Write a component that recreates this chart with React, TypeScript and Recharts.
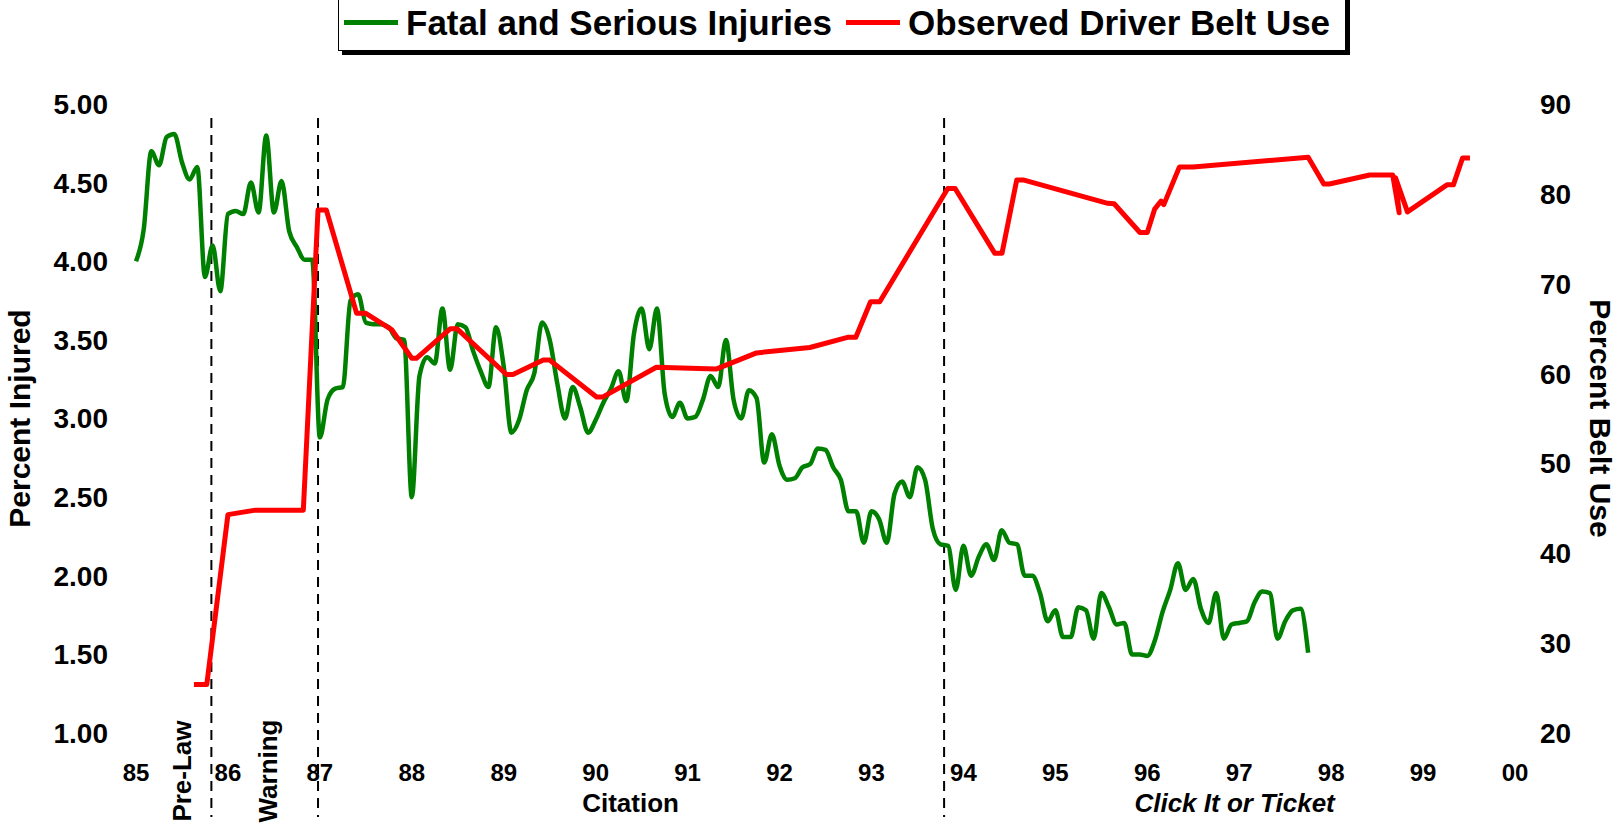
import React from 'react';
import { ComposedChart, Line, XAxis, YAxis, ReferenceLine } from 'recharts';

const FONT = '"Liberation Sans", Arial, Helvetica, sans-serif';

// monthly rate of fatal + serious injuries, starting Jan 1985
const injuryStartYear = 85;
const injuryRate = [
  4.0, 4.2, 4.7, 4.61, 4.79, 4.81, 4.63, 4.52, 4.6, 3.9, 4.1, 3.81,
  4.3, 4.32, 4.3, 4.5, 4.31, 4.8, 4.31, 4.51, 4.19, 4.09, 4.01, 4.01,
  2.88, 3.12, 3.19, 3.2, 3.75, 3.79, 3.61, 3.6, 3.6, 3.58, 3.51, 3.5,
  2.5, 3.27, 3.39, 3.35, 3.7, 3.31, 3.6, 3.58, 3.43, 3.3, 3.2, 3.58,
  3.33, 2.91, 2.99, 3.18, 3.29, 3.61, 3.5, 3.22, 3.0, 3.2, 3.07, 2.91,
  2.99, 3.1, 3.19, 3.3, 3.11, 3.54, 3.7, 3.44, 3.7, 3.16, 3.01, 3.1,
  3.0, 3.01, 3.12, 3.27, 3.2, 3.5, 3.12, 3.0, 3.18, 3.13, 2.72, 2.9,
  2.7, 2.61, 2.62, 2.69, 2.71, 2.81, 2.8, 2.69, 2.61, 2.41, 2.41, 2.21,
  2.41, 2.36, 2.21, 2.52, 2.6, 2.5, 2.69, 2.61, 2.3, 2.2, 2.19, 1.91,
  2.19, 2.0, 2.12, 2.2, 2.1, 2.29, 2.21, 2.2, 2.0, 2.0, 1.89, 1.71,
  1.78, 1.61, 1.61, 1.8, 1.78, 1.6, 1.89, 1.8, 1.69, 1.7, 1.5, 1.5,
  1.49, 1.59, 1.77, 1.91, 2.08, 1.91, 1.98, 1.79, 1.7, 1.89, 1.6, 1.69,
  1.7, 1.71, 1.83, 1.9, 1.89, 1.6, 1.71, 1.78, 1.79, 1.51,
];

// observed driver belt use survey points
const beltYears = [
  85.63, 85.77, 86.0, 86.3, 86.82, 86.98, 87.07, 87.4, 87.5, 87.78, 88.0, 88.05,
  88.42, 88.49, 89.03, 89.1, 89.43, 89.5, 90.01, 90.08, 90.66, 91.31, 91.75, 92.33,
  92.75, 92.83, 92.99, 93.09, 93.83, 93.91, 94.34, 94.42, 94.58, 94.65, 95.57, 95.64,
  95.92, 96.0, 96.08, 96.15, 96.18, 96.35, 96.5, 97.75, 97.92, 97.98, 98.42, 98.67,
  98.74, 98.7, 98.83, 99.26, 99.33, 99.43, 99.51,
];
const beltUse = [
  25.4, 25.4, 44.3, 44.8, 44.8, 78.2, 78.2, 66.7, 66.7, 64.9, 61.7, 61.7,
  65.0, 65.0, 59.9, 59.9, 61.5, 61.5, 57.4, 57.4, 60.7, 60.5, 62.3, 62.9,
  64.05, 64.05, 68.0, 68.0, 80.6, 80.6, 73.4, 73.4, 81.55, 81.55, 78.95, 78.9,
  75.7, 75.7, 78.3, 79.2, 78.8, 83.0, 83.0, 84.07, 81.1, 81.1, 82.1, 82.1,
  77.9, 81.8, 78.0, 81.0, 81.0, 84.0, 84.0,
];

const yearTicks = [85, 86, 87, 88, 89, 90, 91, 92, 93, 94, 95, 96, 97, 98, 99, 100];
const injuryTicks = [1, 1.5, 2, 2.5, 3, 3.5, 4, 4.5, 5];
const beltTicks = [20, 30, 40, 50, 60, 70, 80, 90];

const phaseBreaks = [85.82, 86.98, 93.79];
const phaseNames = ['Pre-Law', 'Warning', 'Citation', 'Click It or Ticket'];
const phaseCenters = [85.5, 86.44, 90.38, 96.95];
const phaseVertical = [true, true, false, false];
const phaseItalic = [false, false, false, true];

const seriesNames = ['Fatal and Serious Injuries', 'Observed Driver Belt Use'];
const seriesColors = ['#008000', '#ff0000'];

const injuryData = injuryRate.map((rate, i) => ({ year: injuryStartYear + i / 12, rate }));
const beltData = beltYears.map((year, i) => ({ year, belt: beltUse[i] }));

const tickText = { fill: '#000', fontWeight: 700, fontFamily: FONT };

const DashedBreak = (props: any) => {
  const { x1, y1, y2 } = props;
  const top = Math.min(y1, y2);
  const bottom = Math.max(y1, y2);
  return (
    <line x1={x1} x2={x1} y1={top + 14} y2={bottom + 84} stroke="#000" strokeWidth={2} strokeDasharray="10 7" />
  );
};

const PhaseLabel = (props: any) => {
  const { x1, y1, y2, name, vertical, italic } = props;
  const bottom = Math.max(y1, y2);
  const style = { fontFamily: FONT, fontWeight: 700, fontSize: 26, fontStyle: italic ? 'italic' : 'normal' };
  if (vertical) {
    const cy = bottom + 38;
    return (
      <text x={x1} y={cy} transform={`rotate(-90 ${x1} ${cy})`} textAnchor="middle" dominantBaseline="central" fill="#000" style={style}>
        {name}
      </text>
    );
  }
  return (
    <text x={x1} y={bottom + 70} textAnchor="middle" dominantBaseline="central" fill="#000" style={style}>
      {name}
    </text>
  );
};

const AxisTitle = (props: any) => {
  const { viewBox, value, side } = props;
  const cx = side === 'left' ? viewBox.x + 19 : viewBox.x + 85;
  const cy = viewBox.y + viewBox.height / 2;
  return (
    <text
      x={cx}
      y={cy}
      transform={`rotate(${side === 'left' ? -90 : 90} ${cx} ${cy})`}
      textAnchor="middle"
      dominantBaseline="central"
      fill="#000"
      style={{ fontFamily: FONT, fontWeight: 700, fontSize: 30 }}
    >
      {value}
    </text>
  );
};

const LegendBox = () => (
  <div
    style={{
      position: 'absolute',
      left: 338,
      top: -6,
      width: 1008,
      height: 57,
      boxSizing: 'border-box',
      border: '1px solid #000',
      boxShadow: '4px 4px 0 #000',
      background: '#fff',
      display: 'flex',
      alignItems: 'center',
      paddingLeft: 5,
      fontFamily: FONT,
      fontWeight: 700,
      fontSize: 35,
      color: '#000',
      whiteSpace: 'nowrap',
    }}
  >
    {seriesNames.map((name, i) => (
      <div key={name} style={{ display: 'flex', alignItems: 'center', marginRight: 14 }}>
        <span style={{ display: 'inline-block', width: 54, height: 5, background: seriesColors[i], marginRight: 8 }} />
        <span>{name}</span>
      </div>
    ))}
  </div>
);

export default function App() {
  return (
    <div style={{ position: 'absolute', left: 0, top: 0, width: 1621, height: 827, background: '#fff' }}>
      <ComposedChart width={1621} height={827} margin={{ top: 104, right: 0, bottom: 34, left: 0 }}>
        <XAxis
          type="number"
          dataKey="year"
          domain={[85, 100]}
          ticks={yearTicks}
          interval={0}
          tickFormatter={(y: number) => String(y % 100).padStart(2, '0')}
          axisLine={false}
          tickLine={false}
          tickSize={0}
          tickMargin={31}
          height={60}
          tick={{ ...tickText, fontSize: 24 }}
        />
        <YAxis
          yAxisId="left"
          domain={[1, 5]}
          ticks={injuryTicks}
          interval={0}
          tickFormatter={(v: number) => v.toFixed(2)}
          axisLine={false}
          tickLine={false}
          tickSize={0}
          tickMargin={28}
          width={136}
          tick={{ ...tickText, fontSize: 28 }}
          label={(p: any) => <AxisTitle {...p} value="Percent Injured" side="left" />}
        />
        <YAxis
          yAxisId="right"
          orientation="right"
          domain={[20, 90]}
          ticks={beltTicks}
          interval={0}
          axisLine={false}
          tickLine={false}
          tickSize={0}
          tickMargin={25}
          width={106}
          tick={{ ...tickText, fontSize: 28 }}
          label={(p: any) => <AxisTitle {...p} value="Percent Belt Use" side="right" />}
        />
        {phaseBreaks.map((x) => (
          <ReferenceLine key={'b' + x} x={x} yAxisId="left" shape={(p: any) => <DashedBreak {...p} />} />
        ))}
        {phaseNames.map((name, i) => (
          <ReferenceLine
            key={name}
            x={phaseCenters[i]}
            yAxisId="left"
            shape={(p: any) => (
              <PhaseLabel {...p} name={name} vertical={phaseVertical[i]} italic={phaseItalic[i]} />
            )}
          />
        ))}
        <Line
          data={injuryData}
          dataKey="rate"
          yAxisId="left"
          type="monotone"
          stroke={seriesColors[0]}
          strokeWidth={4.5}
          dot={false}
          strokeLinejoin="round"
          isAnimationActive={false}
        />
        <Line
          data={beltData}
          dataKey="belt"
          yAxisId="right"
          type="linear"
          stroke={seriesColors[1]}
          strokeWidth={5}
          dot={false}
          strokeLinejoin="round"
          isAnimationActive={false}
        />
      </ComposedChart>
      <LegendBox />
    </div>
  );
}
